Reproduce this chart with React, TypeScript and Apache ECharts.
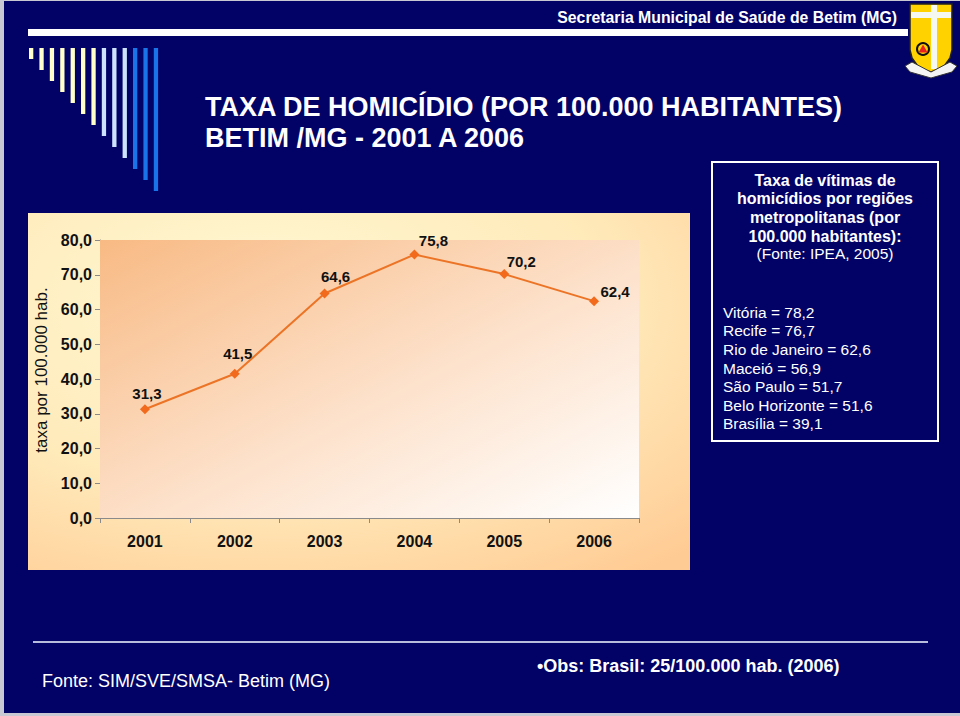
import React, { useEffect, useRef } from "react";
import * as echarts from "echarts";

const years = ["2001", "2002", "2003", "2004", "2005", "2006"];
const rates = [31.3, 41.5, 64.6, 75.8, 70.2, 62.4];
const yTicks = { min: 0, max: 80, interval: 10 };

const boxTitle = [
  "Taxa de vítimas de",
  "homicídios por regiões",
  "metropolitanas (por",
  "100.000 habitantes):",
];
const boxSource = "(Fonte: IPEA, 2005)";
const cities = ["Vitória", "Recife", "Rio de Janeiro", "Maceió", "São Paulo", "Belo Horizonte", "Brasília"];
const cityRates = ["78,2", "76,7", "62,6", "56,9", "51,7", "51,6", "39,1"];

const titleLines = ["TAXA DE HOMICÍDIO (POR 100.000 HABITANTES)", "BETIM /MG - 2001 A 2006"];
const headerText = "Secretaria Municipal de Saúde de Betim (MG)";
const footerSource = "Fonte: SIM/SVE/SMSA- Betim (MG)";
const footerObs = "•Obs: Brasil: 25/100.000 hab. (2006)";
const yAxisName = "taxa por 100.000 hab.";

const SANS = "'Liberation Sans', Arial, sans-serif";

const fmt = (v: number) => v.toFixed(1).replace(".", ",");

export default function App() {
  const ref = useRef<HTMLDivElement>(null);
  useEffect(() => {
    if (!ref.current) return;
    const chart = echarts.init(ref.current, null, { renderer: "svg" });

    const labelOffsets = [
      [2, -16],
      [3, -20],
      [11, -17],
      [19, -14],
      [17, -13],
      [21, -10],
    ];

    const stripeColors = [
      "#FFFFCC", "#FFFFCC", "#FFFFCC", "#FFFFCC", "#FFFFCC", "#FFFFCC", "#FFFFCC",
      "#CCE2FF", "#CCE2FF", "#CCE2FF",
      "#1874E8", "#1874E8", "#1874E8",
    ];
    const stripes = stripeColors.map((c, i) => ({
      type: "rect",
      shape: { x: 29 + i * 10.4, y: 48, width: 4.3, height: 11 + i * 11 },
      style: { fill: c },
      silent: true,
    }));

    const graphics: any[] = [
      {
        type: "rect",
        shape: { x: 4, y: 1, width: 956, height: 712 },
        style: { fill: "#020266" },
        z: -10,
      },
      { type: "rect", shape: { x: 28, y: 29, width: 880, height: 7 }, style: { fill: "#FFFFFF" } },
      ...stripes,
      {
        type: "rect",
        shape: { x: 28, y: 213, width: 662, height: 357 },
        style: {
          fill: new echarts.graphic.RadialGradient(0.35, 0.25, 0.95, [
            { offset: 0, color: "#FFF9D4" },
            { offset: 0.55, color: "#FFEABA" },
            { offset: 1, color: "#FFCB94" },
          ]),
        },
        z: -5,
      },
      {
        type: "text",
        x: 897,
        y: 17,
        style: {
          text: headerText,
          fill: "#FFFFFF",
          font: `bold 15.8px ${SANS}`,
          textAlign: "right",
          textVerticalAlign: "middle",
        },
      },
      {
        type: "text",
        x: 205,
        y: 91,
        style: {
          text: titleLines.join("\n"),
          fill: "#FFFFFF",
          font: `bold 27px ${SANS}`,
          lineHeight: 31,
          textAlign: "left",
          textVerticalAlign: "top",
        },
      },
      {
        type: "rect",
        shape: { x: 712, y: 162, width: 226, height: 279 },
        style: { fill: "none", stroke: "#FFFFFF", lineWidth: 2 },
      },
      {
        type: "text",
        x: 825,
        y: 171,
        style: {
          text: boxTitle.join("\n"),
          fill: "#FFFFFF",
          font: `bold 16px ${SANS}`,
          lineHeight: 18.6,
          textAlign: "center",
          textVerticalAlign: "top",
        },
      },
      {
        type: "text",
        x: 825,
        y: 245,
        style: {
          text: boxSource,
          fill: "#FFFFFF",
          font: `15.5px ${SANS}`,
          textAlign: "center",
          textVerticalAlign: "top",
        },
      },
      {
        type: "text",
        x: 723,
        y: 303,
        style: {
          text: cities.map((c, i) => `${c} = ${cityRates[i]}`).join("\n"),
          fill: "#FFFFFF",
          font: `15.5px ${SANS}`,
          lineHeight: 18.6,
          textAlign: "left",
          textVerticalAlign: "top",
        },
      },
      {
        type: "line",
        shape: { x1: 33, y1: 642, x2: 928, y2: 642 },
        style: { stroke: "#B8BCDC", lineWidth: 2 },
      },
      {
        type: "text",
        x: 42,
        y: 681,
        style: {
          text: footerSource,
          fill: "#FFFFFF",
          font: `18px ${SANS}`,
          textAlign: "left",
          textVerticalAlign: "middle",
        },
      },
      {
        type: "text",
        x: 537,
        y: 666,
        style: {
          text: footerObs,
          fill: "#FFFFFF",
          font: `bold 18px ${SANS}`,
          textAlign: "left",
          textVerticalAlign: "middle",
        },
      },
      {
        type: "polygon",
        shape: {
          points: [
            [910, 4], [952, 4], [952, 50], [950, 58], [945, 65], [938, 70], [931, 72],
            [924, 70], [917, 65], [912, 58], [910, 50],
          ],
        },
        style: { fill: "#FFD200", stroke: "#222222", lineWidth: 1.5 },
      },
      { type: "rect", shape: { x: 911, y: 12, width: 40, height: 6 }, style: { fill: "#F4F8F0" } },
      { type: "rect", shape: { x: 931, y: 5, width: 6, height: 64 }, style: { fill: "#F4F8F0" } },
      {
        type: "circle",
        shape: { cx: 923, cy: 49, r: 6 },
        style: { fill: "#FFD200", stroke: "#111111", lineWidth: 2 },
      },
      {
        type: "polygon",
        shape: { points: [[923, 44.5], [927.5, 52.5], [918.5, 52.5]] },
        style: { fill: "#E82020" },
      },
      {
        type: "polygon",
        shape: {
          points: [[905, 66], [912, 62], [931, 72], [950, 62], [957, 66], [952, 72], [931, 78], [910, 72]],
        },
        style: { fill: "#F4F4F4", stroke: "#333333", lineWidth: 1 },
      },
    ];

    const option: any = {
      animation: false,
      backgroundColor: "#C8C8D2",
      graphic: graphics,
      grid: {
        left: 100,
        top: 240,
        right: 321,
        bottom: 198,
        show: true,
        borderWidth: 0,
        backgroundColor: new echarts.graphic.LinearGradient(0, 0, 1, 1, [
          { offset: 0, color: "#F8BA84" },
          { offset: 0.55, color: "#FDE2CC" },
          { offset: 1, color: "#FFFFFF" },
        ]),
        z: 1,
      },
      xAxis: {
        type: "category",
        data: years,
        boundaryGap: true,
        axisLine: { show: true, lineStyle: { color: "#8A8A8A", width: 1 } },
        axisTick: { show: true, length: 5, lineStyle: { color: "#8A8A8A" } },
        axisLabel: {
          color: "#111111",
          fontFamily: SANS,
          fontWeight: "bold",
          fontSize: 16,
          margin: 15,
        },
        splitLine: { show: false },
      },
      yAxis: {
        type: "value",
        min: yTicks.min,
        max: yTicks.max,
        interval: yTicks.interval,
        name: yAxisName,
        nameLocation: "middle",
        nameGap: 42,
        nameTextStyle: { color: "#111111", fontFamily: SANS, fontSize: 17, padding: [0, 0, 0, 18] },
        axisLine: { show: true, lineStyle: { color: "#8A8A8A", width: 1 } },
        axisTick: { show: true, length: 5, lineStyle: { color: "#8A8A8A" } },
        axisLabel: {
          color: "#111111",
          fontFamily: SANS,
          fontWeight: "bold",
          fontSize: 16,
          margin: 8,
          formatter: (v: number) => fmt(v),
        },
        splitLine: { show: true, lineStyle: { color: "#8C8C8C", width: 1 } },
      },
      series: [
        {
          type: "line",
          data: rates.map((v, i) => ({
            value: v,
            label: { offset: labelOffsets[i] },
          })),
          lineStyle: { color: "#EC7426", width: 2 },
          itemStyle: { color: "#F26A1B" },
          symbol: "diamond",
          symbolSize: 10,
          z: 5,
          label: {
            show: true,
            position: "inside",
            color: "#111111",
            fontFamily: SANS,
            fontWeight: "bold",
            fontSize: 15,
            formatter: (p: any) => fmt(p.value),
          },
        },
      ],
    };
    chart.setOption(option);
    return () => chart.dispose();
  }, []);
  return (
    <div
      ref={ref}
      style={{ position: "fixed", left: 0, top: 0, width: 960, height: 716 }}
    />
  );
}
